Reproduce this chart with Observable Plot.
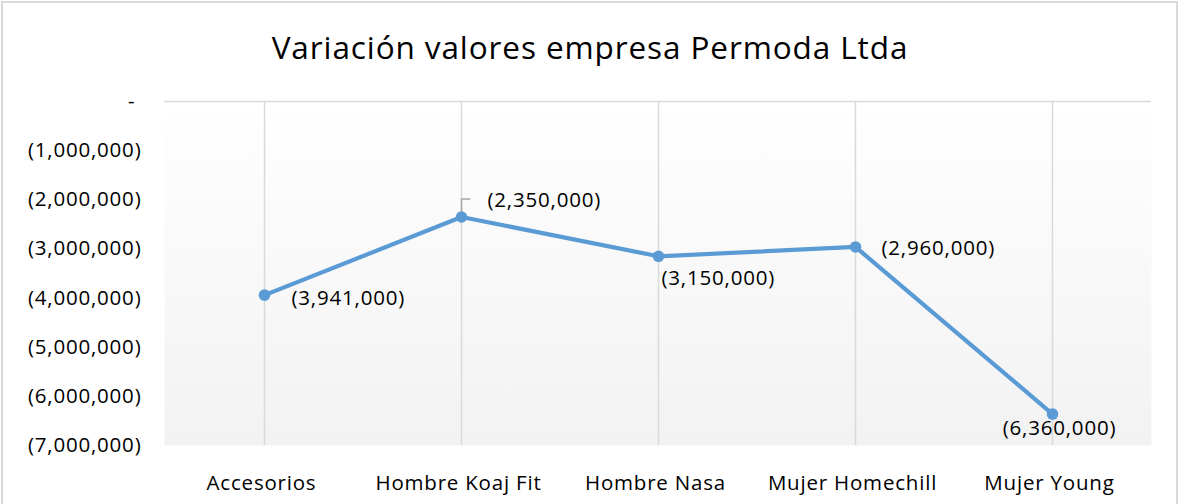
<!DOCTYPE html>
<html>
<head>
<meta charset="utf-8">
<script src="https://cdn.jsdelivr.net/npm/d3@7"></script>
<script src="https://cdn.jsdelivr.net/npm/@observablehq/plot@0.6"></script>
<style>
  html, body { margin: 0; padding: 0; background: #fff; width: 1180px; height: 504px; overflow: hidden; }
  #frame { position: absolute; left: 1px; top: 1px; width: 1177px; height: 520px; border: 2px solid #D9D9D9; box-sizing: border-box; }
  #title { position: absolute; left: 0; top: 21px; width: 1180px; text-align: center; font-family: "Open Sans", sans-serif; font-size: 31.5px; letter-spacing: 0.9px; color: #000; line-height: 52px; }
  #chart { position: absolute; left: 0; top: 70px; }
  svg text { white-space: pre; }
</style>
</head>
<body>
<div id="frame"></div>
<div id="title">Variación valores empresa Permoda Ltda</div>
<div id="chart"></div>
<script>
const categories = ["Accesorios", "Hombre Koaj Fit", "Hombre Nasa", "Mujer Homechill", "Mujer Young"];
const values = [-3941000, -2350000, -3150000, -2960000, -6360000];
const yTicks = [0, -1000000, -2000000, -3000000, -4000000, -5000000, -6000000, -7000000];

const data = categories.map((c, i) => ({cat: c, v: values[i], i}));
const fmt = d => d === 0 ? "- " : "(" + d3.format(",")(Math.abs(d)) + ")";
const FS = 20.5;
const font = {fontFamily: "Open Sans, sans-serif", fontSize: FS, fill: "#000"};

const leader = {
  draw(context) {
    context.moveTo(0, -3);
    context.lineTo(0, -18);
    context.lineTo(9, -18);
  }
};

const chart = Plot.plot({
  width: 1180,
  height: 430,
  marginLeft: 164,
  marginRight: 29,
  marginTop: 31,
  marginBottom: 55,
  style: {fontFamily: "Open Sans, sans-serif", fontSize: FS + "px", letterSpacing: "0.8px", color: "#000", background: "transparent", overflow: "visible"},
  x: {type: "point", domain: categories, padding: 0.5, label: null},
  y: {domain: [-7000000, 0], label: null},
  marks: [
    Plot.frame({fill: "url(#bgGrad)", stroke: "none"}),
    Plot.ruleX(categories, {y1: 0, y2: -7000000, stroke: "#D9D9D9", strokeWidth: 1.5}),
    Plot.ruleY([0], {stroke: "#D9D9D9", strokeWidth: 1.5}),
    Plot.axisY({ticks: yTicks, tickFormat: fmt, tickSize: 0, tickPadding: 23, fontSize: FS, label: null}),
    Plot.axisX({tickSize: 0, tickPadding: 30, fontSize: FS, dx: -3, label: null}),
    Plot.dot(data.filter(d => d.i === 1), {x: "cat", y: "v", symbol: leader, stroke: "#A6A6A6", strokeWidth: 1.5, fill: "none", r: 5}),
    Plot.line(data, {x: "cat", y: "v", stroke: "#5B9BD5", strokeWidth: 4.2, strokeLinejoin: "round"}),
    Plot.dot(data, {x: "cat", y: "v", r: 5.8, fill: "#5B9BD5", stroke: "none"}),
    Plot.text(data.filter(d => d.i === 0), {x: "cat", y: "v", text: d => fmt(d.v), textAnchor: "start", dx: 27, dy: 3, ...font}),
    Plot.text(data.filter(d => d.i === 1), {x: "cat", y: "v", text: d => fmt(d.v), textAnchor: "start", dx: 26, dy: -17, ...font}),
    Plot.text(data.filter(d => d.i === 2), {x: "cat", y: "v", text: d => fmt(d.v), textAnchor: "start", dx: 3, dy: 22, ...font}),
    Plot.text(data.filter(d => d.i === 3), {x: "cat", y: "v", text: d => fmt(d.v), textAnchor: "start", dx: 26, dy: 1, ...font}),
    Plot.text(data.filter(d => d.i === 4), {x: "cat", y: "v", text: d => fmt(d.v), textAnchor: "middle", dx: 7, dy: 14, ...font})
  ]
});

const svg = d3.select(chart);
const defs = svg.insert("defs", ":first-child");
const g = defs.append("linearGradient").attr("id", "bgGrad").attr("x1", 0).attr("y1", 0).attr("x2", 0).attr("y2", 1);
g.append("stop").attr("offset", "0%").attr("stop-color", "#FFFFFF");
g.append("stop").attr("offset", "100%").attr("stop-color", "#F2F2F2");

document.getElementById("chart").appendChild(chart);
</script>
</body>
</html>
